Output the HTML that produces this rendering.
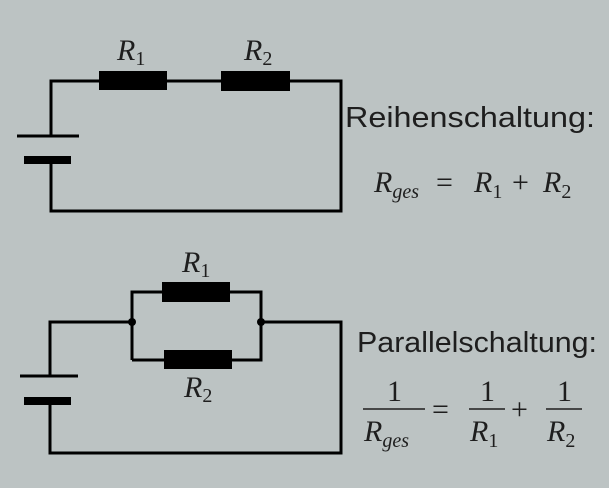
<!DOCTYPE html>
<html><head><meta charset="utf-8"><style>
html,body{margin:0;padding:0;background:#bcc3c3;}
svg{display:block}
.t{font-family:"Liberation Sans","DejaVu Sans",sans-serif;fill:#1e1e1e;}
.m{font-family:"Liberation Serif",serif;fill:#1e1e1e;}
</style></head><body>
<svg width="609" height="488" viewBox="0 0 609 488">
<rect width="609" height="488" fill="#bcc3c3"/>
<g stroke="#000" stroke-width="3" fill="none">
<polyline points="51,136 51,81 341,81 341,211 51,211 51,160"/>
<line x1="17" y1="136" x2="79" y2="136"/>
<polyline points="50,376 50,322 132,322"/>
<polyline points="261,322 341,322 341,453 50,453 50,398"/>
<polyline points="132,360 132,292 261,292 261,360 132,360"/>
<line x1="20" y1="376" x2="78" y2="376"/>
</g>
<g fill="#000">
<rect x="99" y="71" width="68" height="19"/>
<rect x="221" y="71" width="69" height="20"/>
<rect x="24" y="156" width="47" height="8"/>
<rect x="162" y="282" width="68" height="20"/>
<rect x="164" y="350" width="68" height="19"/>
<rect x="24" y="397" width="47" height="8"/>
<circle cx="132" cy="322" r="4"/>
<circle cx="261" cy="322" r="4"/>
</g>
<g class="m" font-style="italic" font-size="30">
<text x="117" y="60">R<tspan font-style="normal" font-size="20" dy="5">1</tspan></text>
<text x="244" y="60">R<tspan font-style="normal" font-size="20" dy="5">2</tspan></text>
<text x="182" y="272">R<tspan font-style="normal" font-size="20" dy="5">1</tspan></text>
<text x="184" y="397">R<tspan font-style="normal" font-size="20" dy="5">2</tspan></text>
</g>
<text class="t" x="345" y="127" font-size="29" textLength="250" lengthAdjust="spacingAndGlyphs">Reihenschaltung:</text>
<text class="t" x="357" y="352" font-size="29" textLength="240" lengthAdjust="spacingAndGlyphs">Parallelschaltung:</text>
<g class="m" font-size="30">
<text x="374" y="192" font-style="italic">R<tspan font-size="20" dy="6">ges</tspan></text>
<text x="436" y="192">=</text>
<text x="474" y="192" font-style="italic">R<tspan font-style="normal" font-size="20" dy="6">1</tspan></text>
<text x="512" y="192">+</text>
<text x="543" y="192" font-style="italic">R<tspan font-style="normal" font-size="20" dy="6">2</tspan></text>
<text x="387" y="401">1</text>
<text x="480" y="401">1</text>
<text x="557" y="401">1</text>
<text x="364" y="441" font-style="italic">R<tspan font-size="20" dy="6">ges</tspan></text>
<text x="470" y="441" font-style="italic">R<tspan font-style="normal" font-size="20" dy="6">1</tspan></text>
<text x="547" y="441" font-style="italic">R<tspan font-style="normal" font-size="20" dy="6">2</tspan></text>
<text x="432" y="419">=</text>
<text x="511" y="419">+</text>
</g>
<g stroke="#1e1e1e" stroke-width="1.6">
<line x1="363" y1="409" x2="425" y2="409"/>
<line x1="469" y1="409" x2="505" y2="409"/>
<line x1="546" y1="409" x2="582" y2="409"/>
</g>
</svg>
</body></html>
